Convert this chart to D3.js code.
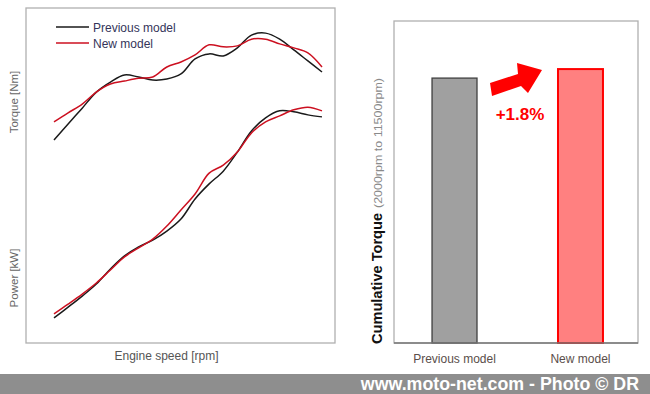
<!DOCTYPE html>
<html><head><meta charset="utf-8">
<script src="https://cdn.jsdelivr.net/npm/d3@7"></script>
<style>body{margin:0;background:#fff;}svg{display:block;font-family:"Liberation Sans",Arial,sans-serif;}</style>
</head><body>
<script>
// ---- data ----
const rpm = [2000,2500,3000,3500,4000,4500,5000,5500,6000,6500,7000,7500,8000,8500,9000,9500,10000,10500,11000,11500];
const torquePrev = [60.6,65.4,70.1,74.9,77.9,80.0,79.4,78.5,78.8,80.3,84.8,86.3,85.7,88.1,91.9,92.5,90.7,87.5,84.2,80.9];
const torqueNew  = [66.0,68.7,71.3,74.9,77.3,78.2,79.0,79.4,82.4,83.9,86.0,89.0,88.4,88.7,90.7,90.7,89.3,88.1,86.6,82.4];
const powerPrev  = [7.5,10.7,14.0,17.6,22.1,26.0,28.7,30.7,33.4,37.0,43.0,47.5,51.3,57.0,63.3,67.2,69.3,69.0,68.1,67.5];
const powerNew   = [8.7,11.6,14.6,17.9,21.8,25.7,28.4,31.0,34.9,39.7,44.5,50.7,53.1,57.0,62.7,66.0,67.8,69.6,70.4,69.3];
const seriesNames = ["Previous model","New model"];
const cumCategories = ["Previous model","New model"];
const cumValues = [100, 101.8];
const gainLabel = "+1.8%";

const W = 650, H = 394;
const svg = d3.select("body").append("svg").attr("width", W).attr("height", H);

// ---- left panel ----
const L = {x0:26, y0:8, x1:335, y1:343};
svg.append("rect").attr("x",L.x0).attr("y",L.y0).attr("width",L.x1-L.x0).attr("height",L.y1-L.y0)
  .attr("fill","none").attr("stroke","#b0b0b0").attr("stroke-width",1.3);

const x = d3.scaleLinear().domain(d3.extent(rpm)).range([54, 322]);
const y = d3.scaleLinear().domain([0,100]).range([L.y1, L.y0]);
const line = d3.line().x((d,i)=>x(rpm[i])).y(d=>y(d)).curve(d3.curveCatmullRom.alpha(0.5));
const colors = ["#1a1a1a","#cc1020"];

[[torquePrev,0],[torqueNew,1],[powerPrev,0],[powerNew,1]].forEach(([arr,c])=>{
  svg.append("path").attr("d", line(arr)).attr("fill","none")
    .attr("stroke", colors[c]).attr("stroke-width",1.5);
});

// legend
seriesNames.forEach((n,i)=>{
  const ly = 27 + i*16;
  svg.append("line").attr("x1",56).attr("x2",89).attr("y1",ly).attr("y2",ly)
    .attr("stroke",colors[i]).attr("stroke-width",1.5);
  svg.append("text").attr("x",93).attr("y",ly+4.5).attr("font-size",12).attr("fill","#34345a").text(n);
});

// axis labels
svg.append("text").attr("transform","translate(18,102) rotate(-90)").attr("text-anchor","middle")
  .attr("font-size",11.5).attr("fill","#666").text("Torque [Nm]");
svg.append("text").attr("transform","translate(18,278) rotate(-90)").attr("text-anchor","middle")
  .attr("font-size",11.5).attr("fill","#666").text("Power [kW]");
svg.append("text").attr("x",166.5).attr("y",360).attr("text-anchor","middle")
  .attr("font-size",12).attr("fill","#555").text("Engine speed [rpm]");

// ---- right panel ----
const R = {x0:394, y0:21, x1:638, y1:343};
svg.append("rect").attr("x",R.x0).attr("y",R.y0).attr("width",R.x1-R.x0).attr("height",R.y1-R.y0)
  .attr("fill","none").attr("stroke","#b0b0b0").attr("stroke-width",1.3);

const xb = d3.scaleBand().domain(cumCategories).range([R.x0+1.5, R.x1+1.5]).paddingInner(0.643).paddingOuter(0.29);
const yb = d3.scaleLinear().domain([47.1, 111.4]).range([R.y1, R.y0]);
const barFill = ["#a0a0a0","#ff8080"], barStroke = ["#404040","#ff0000"], barSW=[1.3,2];
cumCategories.forEach((c,i)=>{
  svg.append("rect").attr("x",xb(c)).attr("y",yb(cumValues[i])).attr("width",xb.bandwidth())
    .attr("height",R.y1-yb(cumValues[i])).attr("fill",barFill[i]).attr("stroke",barStroke[i]).attr("stroke-width",barSW[i]);
  svg.append("text").attr("x",xb(c)+xb.bandwidth()/2).attr("y",363).attr("text-anchor","middle")
    .attr("font-size",12).attr("fill","#5a4e4a").text(c);
});
svg.append("line").attr("x1",R.x0).attr("x2",R.x1).attr("y1",R.y1).attr("y2",R.y1).attr("stroke","#777").attr("stroke-width",1.3);

// arrow
svg.append("polygon").attr("points","490,83 518,74 517,63 542,70 528,93 521,86 492,96").attr("fill","#ff0000");
svg.append("text").attr("x",520).attr("y",120).attr("text-anchor","middle").attr("font-size",17)
  .attr("font-weight","bold").attr("fill","#ff0000").text(gainLabel);

// y label right
svg.append("text").attr("transform","translate(382,344) rotate(-90)")
  .attr("font-size",15).attr("font-weight","bold").attr("fill","#111")
  .attr("textLength",131).attr("lengthAdjust","spacingAndGlyphs").text("Cumulative Torque");
svg.append("text").attr("transform","translate(382,208) rotate(-90)")
  .attr("font-size",11).attr("fill","#8a8a8a")
  .attr("textLength",130).attr("lengthAdjust","spacingAndGlyphs").text("(2000rpm to 11500rpm)");

// footer
svg.append("rect").attr("x",0).attr("y",374).attr("width",W).attr("height",20).attr("fill","#8e8e8e");
svg.append("text").attr("x",639).attr("y",389.5).attr("text-anchor","end").attr("font-size",17.8)
  .attr("font-weight","bold").attr("fill","#fff").text("www.moto-net.com - Photo © DR");
</script>
</body></html>
